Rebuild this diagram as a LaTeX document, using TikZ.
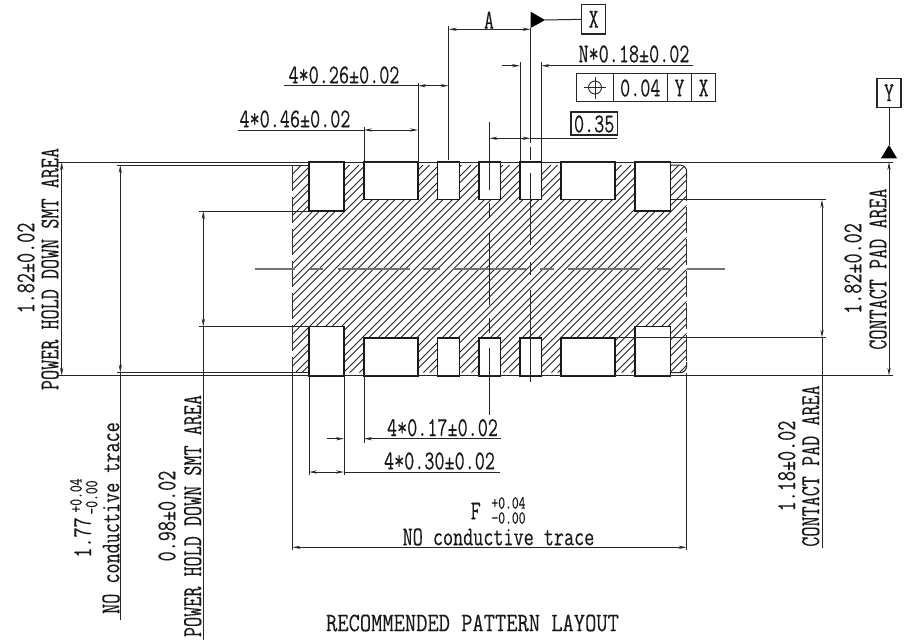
\documentclass[tikz,border=0pt]{standalone}
\usepackage{fontspec}
\usetikzlibrary{arrows.meta}
\newfontfamily\cadfont[FakeStretch=0.72,FakeBold=0.15]{Latin Modern Mono}
\newfontfamily\cadtitle[FakeStretch=0.82,FakeBold=0.15]{Latin Modern Mono}
\tikzset{
  every node/.style={inner sep=0pt,outer sep=0pt},
  lab/.style={font=\cadfont\fontsize{20.4pt}{22pt}\selectfont,text=black!90},
  small/.style={font=\cadfont\fontsize{13.8pt}{15pt}\selectfont,text=black!90},
  ttl/.style={font=\cadtitle\fontsize{20pt}{22pt}\selectfont,text=black!90},
  up/.style={rotate=90},
  ln/.style={line width=0.75pt,black!85},
  padl/.style={line width=0.95pt,black!90,fill=white},
  ctr/.style={line width=1.25pt,black!55},
  dim/.style={ln,{Stealth[length=6pt,width=2.4pt]}-{Stealth[length=6pt,width=2.4pt]}},
  arr/.style={ln,-{Stealth[length=6pt,width=2.4pt]}},
  datum/.style={draw,line width=0.8pt,black!85,text=black!90,font=\cadfont\fontsize{20.4pt}{22pt}\selectfont,minimum width=18pt,minimum height=22pt},
}
\begin{document}
\begin{tikzpicture}[x=0.75pt,y=-0.75pt]
\useasboundingbox (0,0) rectangle (915,643);
\fill[white] (0,0) rectangle (915,643);
% hatched area
\begin{scope}
\clip[rounded corners=5pt] (292.5,165) rectangle (686.7,372.7);
\foreach \k in {0,...,42}{
  \draw[line width=0.7pt,black!85] ({80+16*\k},380) -- ({80+16*\k+220},160);
  \draw[line width=0.7pt,black!85] ({86.5+16*\k},380) -- ({86.5+16*\k+220},160);
}
\end{scope}
\draw[line width=0.9pt,black!80,dash pattern=on 19.5pt off 4.5pt] (292.5,165) -- (292.5,372.7);
\draw[line width=0.9pt,black!80,dash pattern=on 19.5pt off 4.5pt] (686.7,175) -- (686.7,366);
\draw[ln,rounded corners=5pt] (670,165) -- (686.7,165) -- (686.7,178);
\draw[ln,rounded corners=5pt] (670,372.7) -- (686.7,372.7) -- (686.7,362);
% centre lines
\foreach \a/\b in {255/295,310/323,338/410,423/440,453/526,540/554,568/640,657/670,687/725}
  \draw[ctr] (\a,268.7) -- (\b,268.7);
% pads
\foreach \l/\r in {364/418,437.7/459.3,479/500.3,520/541.3,561/615}{
  \draw[padl] (\l,162) rectangle (\r,199.5);
  \draw[padl] (\l,338) rectangle (\r,376);
}
\foreach \l/\r in {309/344,635/670.3}{
  \draw[padl] (\l,162) rectangle (\r,211);
  \draw[padl] (\l,326.5) rectangle (\r,376);
}
% vertical centre lines on top of pads
\foreach \a/\b in {122/190,203/218,233/305,318/333,348/415}
  \draw[line width=0.8pt,black!85] (489.3,\a) -- (489.3,\b);
\foreach \a/\b in {28/143,147/160,173/245,262/275,290/381.7}
  \draw[line width=0.8pt,black!85] (530.7,\a) -- (530.7,\b);
% main horizontals
\draw[ln] (57,162) -- (893,162);
\draw[ln] (57,375.7) -- (893,375.7);
\draw[ln] (117,165) -- (309,165);
\draw[ln] (117,372.7) -- (309,372.7);
\draw[ln] (199.3,211) -- (309,211);
\draw[ln] (199.3,326.7) -- (309,326.7);
\draw[ln] (670.3,199.7) -- (825.7,199.7);
\draw[ln] (615,337.7) -- (825.7,337.7);
% left dimensions
\draw[dim] (61.7,162) -- (61.7,375.7);
\draw[dim] (120.3,165) -- (120.3,372.7);
\draw[ln] (120.3,372.7) -- (120.3,620);
\draw[dim] (203.3,211) -- (203.3,326.7);
\draw[ln] (203.3,326.7) -- (203.3,640);
% right dimensions
\draw[dim] (889,162) -- (889,375.7);
\draw[dim] (822,199.7) -- (822,337.7);
\draw[ln] (822,337.7) -- (822,548);
% top dimensions
\draw[ln] (448.7,26) -- (448.7,160);
\draw[dim] (448.7,29.3) -- (530.7,29.3);
\draw[ln] (418,82.7) -- (418,161);
\draw[ln] (364,126.7) -- (364,161);
\draw[ln] (520,62) -- (520,161);
\draw[ln] (541.3,62) -- (541.3,161);
\draw[ln] (284.3,85.7) -- (418,85.7);
\draw[dim] (418,85.7) -- (448.7,85.7);
\draw[ln] (238,130) -- (364,130);
\draw[dim] (364,130) -- (418,130);
\draw[arr] (502.3,65.7) -- (520,65.7);
\draw[arr] (693.3,65.7) -- (541.3,65.7);
\draw[dim] (489.3,138.3) -- (530.7,138.3);
\draw[ln] (530.7,138.3) -- (617.3,138.3);
% bottom dimensions
\draw[ln] (309,376) -- (309,475);
\draw[ln] (344,376) -- (344,475);
\draw[ln] (364,376) -- (364,442.7);
\draw[arr] (326.7,438.7) -- (344,438.7);
\draw[arr] (501,438.7) -- (364,438.7);
\draw[dim] (309,472) -- (344,472);
\draw[ln] (344,472) -- (500,472);
\draw[ln] (292.5,372.7) -- (292.5,550);
\draw[ln] (686.7,372.7) -- (686.7,550);
\draw[dim] (292.5,547.3) -- (686.7,547.3);
% datum X
\node[datum] (boxX) at (593.7,19.3) {X};
\coordinate (triX) at (530.7,20);
\fill[black] (530.7,11.7) -- (545,20) -- (530.7,28) -- cycle;
\draw[ln] (545,20) -- (boxX.west);
% datum Y
\node[datum] (boxY) at (889,92.8) {Y};
\fill[black] (889,145) -- (897,158.3) -- (881,158.3) -- cycle;
\coordinate (triY) at (889,145);
\draw[ln] (boxY.south) -- (triY);
% feature control frame
\draw[line width=0.8pt,black!85] (576.7,73.3) rectangle (715.7,101.7);
\draw[line width=0.8pt,black!85] (613.3,73.3) -- (613.3,101.7) (667.3,73.3) -- (667.3,101.7) (691.7,73.3) -- (691.7,101.7);
\draw[line width=0.7pt,black!85] (595,87.5) circle (6.5);
\draw[line width=0.7pt,black!85] (584,87.5) -- (606,87.5) (595,76.5) -- (595,98.5);
\node[lab] (t004) at (640.3,88) {0.04};
\node[lab] (tY) at (679.5,88) {Y};
\node[lab] (tX) at (703.7,88) {X};
\draw[line width=0.8pt,black!85] (571,112) rectangle (617.3,135);
\node[lab] (t035) at (594.2,124) {0.35};
% horizontal labels
\node[lab] (tA) at (489,20) {A};
\node[lab] (tN) at (634,54) {N*0.18±0.02};
\node[lab] (t26) at (344,75) {4*0.26±0.02};
\node[lab] (t46) at (295,119) {4*0.46±0.02};
\node[lab] (t17) at (442.5,427.7) {4*0.17±0.02};
\node[lab] (t30) at (439.5,461) {4*0.30±0.02};
\node[lab] (tF) at (475.7,511) {F};
\node[small] (tFp) at (508.5,503) {+0.04};
\node[small] (tFm) at (508.5,518) {-0.00};
\node[lab] (tFn) at (498.5,537) {NO conductive trace};
\node[ttl] (title) at (472.5,623) {RECOMMENDED PATTERN LAYOUT};
% rotated labels
\node[lab,up] (a1) at (26,268) {1.82±0.02};
\node[lab,up] (a2) at (50,269) {POWER HOLD DOWN SMT AREA};
\node[lab,up] (b0) at (82.7,537.5) {1.77};
\node[small,up] (b1) at (76,495.5) {+0.04};
\node[small,up] (b2) at (91.7,497.5) {-0.00};
\node[lab,up] (b3) at (111,518) {NO conductive trace};
\node[lab,up] (c1) at (167,516) {0.98±0.02};
\node[lab,up] (c2) at (192.7,516) {POWER HOLD DOWN SMT AREA};
\node[lab,up] (d1) at (786.7,466) {1.18±0.02};
\node[lab,up] (d2) at (810.7,466) {CONTACT PAD AREA};
\node[lab,up] (e1) at (853,268.5) {1.82±0.02};
\node[lab,up] (e2) at (878,269) {CONTACT PAD AREA};
\end{tikzpicture}
\end{document}
